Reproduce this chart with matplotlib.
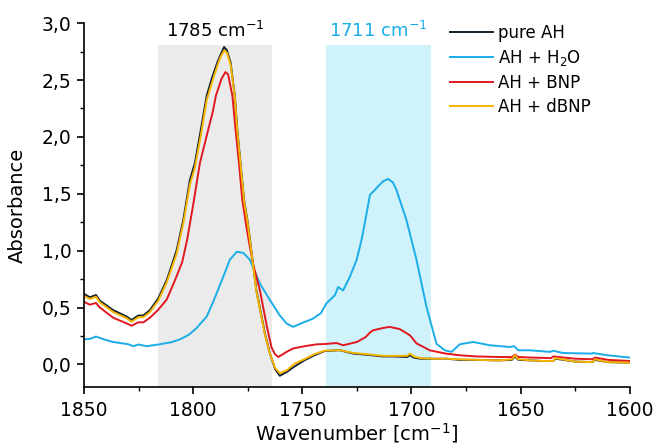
import numpy as np
import matplotlib
matplotlib.use('Agg')
import matplotlib.pyplot as plt
from matplotlib.ticker import MultipleLocator, FuncFormatter

plt.rcParams['font.family'] = ['DejaVu Sans']
plt.rcParams['mathtext.fontset'] = 'dejavusans'

# pure AH
wn_ah = [1850, 1847.3, 1844.5, 1842.7, 1836.6, 1830.4, 1828.2, 1825.1, 1822.8, 1819.8,
         1816, 1812.1, 1807.6, 1804.5, 1801.5, 1799.2, 1796.4, 1793.8, 1791.5, 1789,
         1787.5, 1785.8, 1784.5, 1782.8, 1780.9, 1779.8, 1778.3, 1776.7, 1775, 1774,
         1771, 1767.1, 1764.8, 1762.5, 1760.3, 1757, 1753.7, 1749.1, 1744.5, 1739.9,
         1733, 1726.2, 1720.6, 1713, 1708.4, 1702, 1700.7, 1699, 1696, 1690,
         1684, 1678, 1670, 1660, 1654, 1652.6, 1651, 1645, 1640, 1635,
         1634, 1625, 1617, 1616, 1610, 1600]
abs_ah = [0.62, 0.59, 0.61, 0.56, 0.477, 0.42, 0.39, 0.43, 0.43, 0.477,
          0.58, 0.74, 1.0, 1.27, 1.62, 1.77, 2.07, 2.36, 2.51, 2.65,
          2.72, 2.79, 2.76, 2.65, 2.36, 2.07, 1.77, 1.45, 1.25, 1.1,
          0.65, 0.27, 0.094, -0.04, -0.10, -0.065, -0.02, 0.035, 0.08, 0.117,
          0.125, 0.094, 0.085, 0.07, 0.07, 0.065, 0.08, 0.06, 0.05, 0.05,
          0.05, 0.04, 0.04, 0.035, 0.04, 0.07, 0.04, 0.035, 0.03, 0.03,
          0.05, 0.025, 0.02, 0.04, 0.02, 0.015]

# AH + H2O
wn_h2o = [1850, 1847, 1844.5, 1840, 1836.6, 1829.7, 1827.4, 1825, 1821.3, 1815.2,
          1810, 1806, 1802, 1798.4, 1793.8, 1790.8, 1786.2, 1783.2, 1780, 1777,
          1774, 1769.4, 1764.8, 1760.3, 1757.2, 1754.2, 1749, 1745.3, 1741.5, 1739,
          1735, 1733.6, 1731.3, 1728.2, 1725.1, 1722.9, 1721, 1719, 1716, 1713,
          1710.7, 1708.5, 1706.9, 1702.3, 1697.7, 1693.1, 1688.5, 1684.7, 1681.6, 1677.8,
          1671.7, 1664, 1655, 1653, 1651, 1645.8, 1636.6, 1635, 1630.5, 1617.5,
          1616.8, 1610, 1600]
abs_h2o = [0.22, 0.225, 0.245, 0.215, 0.197, 0.177, 0.16, 0.175, 0.16, 0.177,
           0.195, 0.22, 0.26, 0.32, 0.42, 0.55, 0.77, 0.92, 0.99, 0.98,
           0.92, 0.71, 0.565, 0.43, 0.36, 0.33, 0.373, 0.40, 0.45, 0.535,
           0.61, 0.68, 0.65, 0.77, 0.92, 1.09, 1.28, 1.49, 1.55, 1.61,
           1.63, 1.6, 1.535, 1.27, 0.92, 0.505, 0.18, 0.124, 0.11, 0.177,
           0.197, 0.168, 0.153, 0.16, 0.124, 0.124, 0.11, 0.12, 0.10, 0.095,
           0.10, 0.08, 0.06]

# AH + BNP
wn_bnp = [1850, 1847.3, 1844.5, 1842.7, 1836.6, 1830.4, 1828.2, 1825.1, 1822.8, 1819.8,
          1816, 1812.1, 1808.3, 1805, 1802.7, 1800, 1796.9, 1793, 1791, 1789.6,
          1787, 1785.2, 1784, 1782, 1780.6, 1779, 1777.5, 1775.5, 1774, 1772.5,
          1769.4, 1766.3, 1764.1, 1762.5, 1761, 1757.2, 1754.2, 1749, 1743.5, 1739,
          1734.3, 1731.3, 1725, 1721, 1719, 1717.5, 1713, 1710, 1705.3, 1700.7,
          1697.7, 1691.5, 1684, 1677.8, 1670, 1660, 1654, 1652.6, 1651, 1645,
          1636, 1635, 1625, 1617, 1616, 1610, 1600]
abs_bnp = [0.55, 0.525, 0.54, 0.50, 0.41, 0.36, 0.34, 0.37, 0.37, 0.41,
           0.48, 0.57, 0.74, 0.90, 1.10, 1.40, 1.77, 2.07, 2.22, 2.36,
           2.51, 2.57, 2.55, 2.36, 2.07, 1.77, 1.45, 1.2, 1.03, 0.88,
           0.65, 0.34, 0.15, 0.09, 0.065, 0.11, 0.14, 0.16, 0.176, 0.18,
           0.188, 0.168, 0.197, 0.24, 0.28, 0.30, 0.32, 0.33, 0.31, 0.256,
           0.185, 0.123, 0.094, 0.08, 0.07, 0.065, 0.065, 0.085, 0.065, 0.06,
           0.055, 0.07, 0.05, 0.045, 0.06, 0.04, 0.03]

# AH + dBNP (same grid as pure AH)
wn_dbnp = wn_ah
abs_dbnp = [0.60, 0.575, 0.595, 0.545, 0.46, 0.405, 0.375, 0.415, 0.415, 0.46,
            0.56, 0.72, 0.97, 1.24, 1.58, 1.73, 2.02, 2.32, 2.47, 2.62,
            2.70, 2.76, 2.74, 2.63, 2.35, 2.06, 1.76, 1.44, 1.24, 1.09,
            0.64, 0.26, 0.094, -0.03, -0.077, -0.05, 0.005, 0.045, 0.09, 0.12,
            0.125, 0.10, 0.09, 0.075, 0.075, 0.075, 0.095, 0.07, 0.055, 0.05,
            0.05, 0.045, 0.04, 0.035, 0.045, 0.08, 0.045, 0.035, 0.03, 0.03,
            0.055, 0.025, 0.02, 0.045, 0.02, 0.015]

# 강조 구간
band_c = [1816, 1764]
band_h = [1739, 1691]
band_top = 2.81

c_black = '#12232d'
c_blue = '#1aade8'
c_red = '#e01820'
c_yel = '#f7b500'

fig = plt.figure(figsize=(6.56, 4.45), dpi=100)
ax = fig.add_axes([0.128, 0.130, 0.832, 0.818])

ax.fill_between(band_c, -0.2, band_top, color='#ebebeb', lw=0, zorder=0)
ax.fill_between(band_h, -0.2, band_top, color='#cff2fb', lw=0, zorder=0)

ax.plot(wn_ah, abs_ah, color=c_black, lw=1.4, label='pure AH')
ax.plot(wn_h2o, abs_h2o, color=c_blue, lw=1.4, label='AH + H$_2$O')
ax.plot(wn_bnp, abs_bnp, color=c_red, lw=1.4, label='AH + BNP')
ax.plot(wn_dbnp, abs_dbnp, color=c_yel, lw=1.4, label='AH + dBNP')

ax.text(sum(band_c) / 2, 2.84, '1785 cm$^{-1}$', ha='center', va='bottom', fontsize=13)
ax.text(sum(band_h) / 2, 2.84, '1711 cm$^{-1}$', ha='center', va='bottom', fontsize=13, color=c_blue)

ax.set_xlim(1850, 1600)
ax.set_ylim(-0.2, 3.0)
ax.xaxis.set_major_locator(MultipleLocator(50))
ax.xaxis.set_minor_locator(MultipleLocator(25))
ax.yaxis.set_major_locator(MultipleLocator(0.5))
ax.yaxis.set_minor_locator(MultipleLocator(0.25))
ax.yaxis.set_major_formatter(FuncFormatter(lambda v, p: f'{v:.1f}'.replace('.', ',')))

for s in ['top', 'right']:
    ax.spines[s].set_visible(False)
for s in ['left', 'bottom']:
    ax.spines[s].set_linewidth(1.2)
ax.tick_params(which='major', direction='out', length=5, width=1.2, labelsize=13.5)
ax.tick_params(axis='x', which='major', pad=5)
ax.tick_params(axis='y', which='major', pad=4)
ax.tick_params(which='minor', direction='out', length=3, width=1.0)

ax.set_xlabel('Wavenumber [cm$^{-1}$]', fontsize=14, labelpad=1)
ax.set_ylabel('Absorbance', fontsize=14, labelpad=11)

ax.legend(loc='upper left', bbox_to_anchor=(450 / 656, 1 - 24 / 445), bbox_transform=fig.transFigure,
          frameon=False, fontsize=12, handlelength=2.6, handletextpad=0.3,
          labelspacing=0.35, borderpad=0, borderaxespad=0)

fig.savefig('out.png', dpi=100)
